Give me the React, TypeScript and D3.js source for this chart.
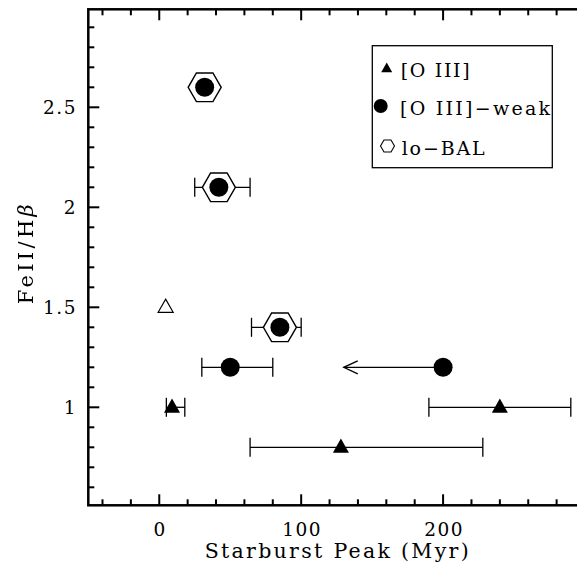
import React from "react";
import * as d3 from "d3";

// [O III] sources: starburst peak age (Myr), FeII/Hβ, and age range
const o3Age = [9, 240, 128];
const o3Fe = [1.0, 1.0, 0.8];
const o3AgeLo = [5, 190, 64];
const o3AgeHi = [18, 290, 228];

// [O III]-weak sources
const weakAge = [32, 42, 85, 50, 200];
const weakFe = [2.6, 2.1, 1.4, 1.2, 1.2];
const weakAgeLo = [null, 25, 65, 30, null];
const weakAgeHi = [null, 64, 100, 80, null];
const weakLoBAL = [true, true, true, false, false];
// upper limit on age: arrow end for the 200 Myr source
const weakLimitTo = [null, null, null, null, 130];

// unclassified source (open triangle)
const otherAge = [4.5];
const otherFe = [1.5];

const xTicksMajor = [0, 100, 200];
const yTicksMajor = [1, 1.5, 2, 2.5];
const yTickLabels = ["1", "1.5", "2", "2.5"];

const W = 577;
const H = 572;
const FONT = "'DejaVu Serif', 'Liberation Serif', serif";

export default function App() {
  const x = d3.scaleLinear().domain([-50, 300]).range([88.3, 585]);
  const y = d3.scaleLinear().domain([0.51, 2.99]).range([505.3, 9.3]);
  const [x0, x1] = x.range();
  const [yb, yt] = y.range();

  const xMinor = d3.range(-40, 300, 20);
  const yMinor = d3.range(6, 30, 1).map((v) => v / 10);

  const triPath = (cx: number, cy: number, s: number) => {
    const h = s * 0.88;
    return `M${cx},${cy - h * 0.62}L${cx + s / 2},${cy + h * 0.38}L${cx - s / 2},${cy + h * 0.38}Z`;
  };
  const hexPath = (cx: number, cy: number, r: number) => {
    const pts = d3.range(6).map((i) => {
      const a = (Math.PI / 3) * i;
      return [cx + r * Math.cos(a), cy + r * Math.sin(a)];
    });
    return "M" + pts.map((p) => p.join(",")).join("L") + "Z";
  };

  const cap = 9.5;
  const errBar = (lo: number, hi: number, fy: number, key: string) => (
    <g key={key} stroke="#000" strokeWidth={1.3}>
      <line x1={x(lo)} x2={x(hi)} y1={y(fy)} y2={y(fy)} />
      <line x1={x(lo)} x2={x(lo)} y1={y(fy) - cap} y2={y(fy) + cap} />
      <line x1={x(hi)} x2={x(hi)} y1={y(fy) - cap} y2={y(fy) + cap} />
    </g>
  );

  return (
    <svg
      width={W}
      height={H}
      style={{ position: "absolute", left: 0, top: 0, background: "#fff" }}
    >
      {/* frame */}
      <rect
        x={x0}
        y={yt}
        width={x1 - x0}
        height={yb - yt}
        fill="none"
        stroke="#000"
        strokeWidth={2.5}
      />
      {/* x ticks, bottom and top */}
      {xMinor.map((v) => {
        const major = xTicksMajor.includes(v);
        const len = major ? 11 : 6;
        return (
          <g key={"xt" + v} stroke="#000" strokeWidth={2}>
            <line x1={x(v)} x2={x(v)} y1={yb} y2={yb - len} />
            <line x1={x(v)} x2={x(v)} y1={yt} y2={yt + len} />
          </g>
        );
      })}
      {/* y ticks */}
      {yMinor.map((v) => {
        const major = yTicksMajor.some((m) => Math.abs(m - v) < 1e-6);
        const len = major ? 11 : 6;
        return (
          <line
            key={"yt" + v}
            x1={x0}
            x2={x0 + len}
            y1={y(v)}
            y2={y(v)}
            stroke="#000"
            strokeWidth={2}
          />
        );
      })}
      {/* tick labels */}
      {xTicksMajor.map((v) => (
        <text
          key={"xl" + v}
          x={x(v) + 1}
          y={535.5}
          textAnchor="middle"
          fontFamily={FONT}
          fontSize={18.5}
          letterSpacing={1.5}
        >
          {String(v)}
        </text>
      ))}
      {yTicksMajor.map((v, i) => (
        <text
          key={"yl" + v}
          x={77}
          y={y(v) + 6.7}
          textAnchor="end"
          fontFamily={FONT}
          fontSize={18.5}
          letterSpacing={1.5}
        >
          {yTickLabels[i]}
        </text>
      ))}
      {/* axis titles */}
      <text
        x={(x0 + x1) / 2}
        y={558}
        textAnchor="middle"
        fontFamily={FONT}
        fontSize={20.5}
        textLength={264}
        lengthAdjust="spacing"
      >
        Starburst Peak (Myr)
      </text>
      <g style={{ filter: "grayscale(1)" }}>
        <text
          transform={`translate(33,${(yt + yb) / 2 - 3}) rotate(-90)`}
          textAnchor="middle"
          fontFamily={FONT}
          fontSize={21}
          textLength={100}
          lengthAdjust="spacing"
          fill="#000"
        >
          FeII/H<tspan fontStyle="italic">β</tspan>
        </text>
      </g>

      {/* error bars */}
      {o3Age.map((a, i) => errBar(o3AgeLo[i], o3AgeHi[i], o3Fe[i], "eo" + i))}
      {weakAge.map((a, i) =>
        weakAgeLo[i] != null
          ? errBar(weakAgeLo[i] as number, weakAgeHi[i] as number, weakFe[i], "ew" + i)
          : null
      )}
      {/* upper-limit arrows */}
      {weakAge.map((a, i) => {
        const to = weakLimitTo[i];
        if (to == null) return null;
        const yy = y(weakFe[i]);
        return (
          <g key={"ar" + i} stroke="#000" strokeWidth={1.3} fill="none">
            <line x1={x(a)} x2={x(to)} y1={yy} y2={yy} />
            <path d={`M${x(to) + 14},${yy - 6.5}L${x(to)},${yy}L${x(to) + 14},${yy + 6.5}`} />
          </g>
        );
      })}
      {/* lo-BAL hexagons */}
      {weakAge.map((a, i) =>
        weakLoBAL[i] ? (
          <path
            key={"hx" + i}
            d={hexPath(x(a), y(weakFe[i]), 16.5)}
            fill="#fff"
            stroke="#000"
            strokeWidth={1.4}
          />
        ) : null
      )}
      {/* [O III]-weak circles */}
      {weakAge.map((a, i) => (
        <circle key={"c" + i} cx={x(a)} cy={y(weakFe[i])} r={9.5} fill="#000" />
      ))}
      {/* [O III] triangles */}
      {o3Age.map((a, i) => (
        <path key={"t" + i} d={triPath(x(a), y(o3Fe[i]), 16)} fill="#000" />
      ))}
      {otherAge.map((a, i) => (
        <path
          key={"ot" + i}
          d={triPath(x(a), y(otherFe[i]), 15)}
          fill="#fff"
          stroke="#000"
          strokeWidth={1.2}
        />
      ))}

      {/* legend */}
      <rect x={372.3} y={45.7} width={180} height={122} fill="#fff" stroke="#000" strokeWidth={1.3} />
      <path d={triPath(386.7, 68.5, 11)} fill="#000" />
      <text x={400.7} y={77} fontFamily={FONT} fontSize={19} textLength={69} lengthAdjust="spacing">
        [O III]
      </text>
      <circle cx={380.7} cy={106} r={7} fill="#000" />
      <text x={400} y={115} fontFamily={FONT} fontSize={19} textLength={150} lengthAdjust="spacing">
        [O III]−weak
      </text>
      <path d={hexPath(387.5, 146, 7)} fill="none" stroke="#000" strokeWidth={1.1} />
      <text x={401.7} y={155} fontFamily={FONT} fontSize={19} textLength={83} lengthAdjust="spacing">
        lo−BAL
      </text>
    </svg>
  );
}
